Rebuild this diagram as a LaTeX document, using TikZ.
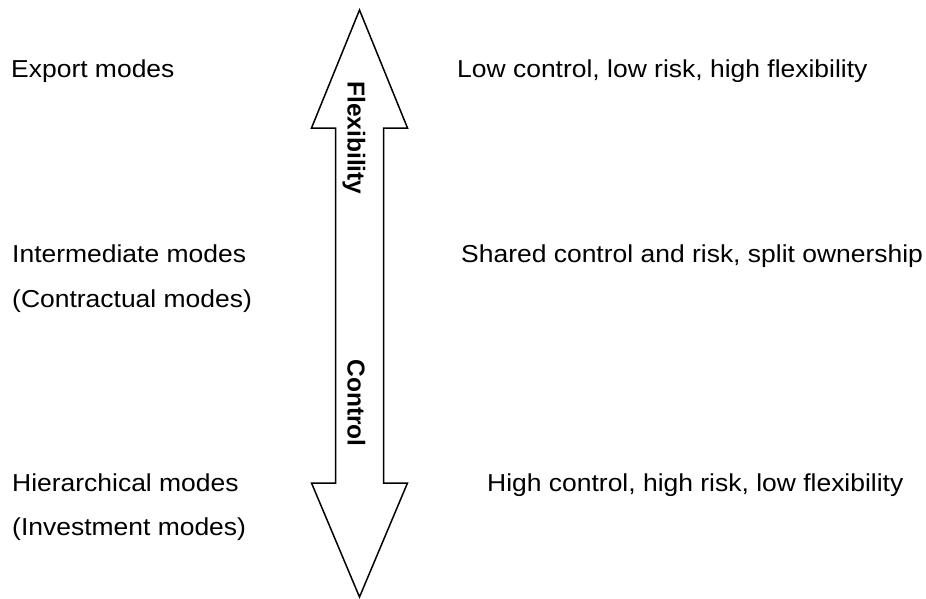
\documentclass[tikz,border=0pt]{standalone}
\usepackage{graphicx}
\usepackage{fontspec}
\setmainfont{Liberation Sans}
\newcommand\hstretch[1]{\scalebox{1.08}[1]{#1}}
\begin{document}
\begin{tikzpicture}[x=1pt,y=-1pt,
  lbl/.style={anchor=base west, inner sep=0pt, font=\fontsize{24.5}{29}\selectfont},
  vlbl/.style={rotate=-90, anchor=base, inner sep=0pt, font=\fontsize{24.5}{29}\selectfont\bfseries},
  arrowshape/.style={draw=black, line width=1.5pt, fill=white, line join=miter}]
\useasboundingbox (0,0) rectangle (926,598);
% double arrow
\draw[arrowshape] (359.5,10) -- (407.5,128) -- (383.5,128) -- (383.5,483) -- (407.5,483)
  -- (359.5,597) -- (311.5,483) -- (335.5,483) -- (335.5,128) -- (311.5,128) -- cycle;
\node[vlbl] (flex) at (347.5,138) {Flexibility};
\node[vlbl] (ctrl) at (347.5,403) {Control};
% left labels
\node[lbl] (exp) at (11,77) {\hstretch{Export modes}};
\node[lbl] (int) at (12,262) {\hstretch{Intermediate modes}};
\node[lbl] (con) at (12,307) {\hstretch{(Contractual modes)}};
\node[lbl] (hie) at (12,491) {\hstretch{Hierarchical modes}};
\node[lbl] (inv) at (12,535) {\hstretch{(Investment modes)}};
% right labels
\node[lbl] (low) at (457,77) {\hstretch{Low control, low risk, high flexibility}};
\node[lbl] (sha) at (461,262) {\hstretch{Shared control and risk, split ownership}};
\node[lbl] (hig) at (487,491) {\hstretch{High control, high risk, low flexibility}};
\end{tikzpicture}
\end{document}
